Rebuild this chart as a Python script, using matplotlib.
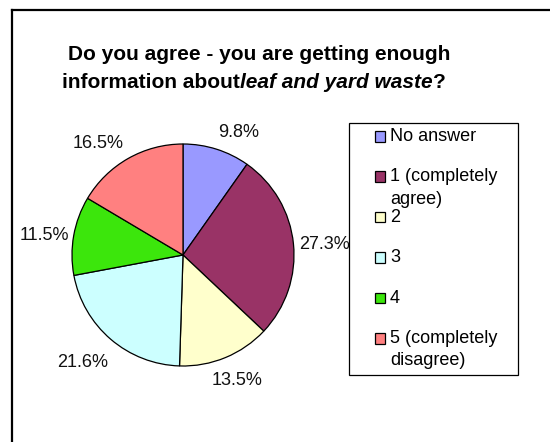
import matplotlib
matplotlib.use("Agg")
import matplotlib.pyplot as plt
from matplotlib.patches import Rectangle
from matplotlib.lines import Line2D


# Data

categories = [
    "No answer",
    "1 (completely\nagree)",
    "2",
    "3",
    "4",
    "5 (completely\ndisagree)"
]

shares = [9.8, 27.3, 13.5, 21.6, 11.5, 16.5]

pct_labels = [f"{v}%" for v in shares]

colors = ["#9999FF", "#993366", "#FFFFCC", "#CCFFFF", "#3CE60C", "#FF8080"]

# small nudges (pixels, right / down) so labels sit where Excel put them
label_nudge = [(13, 12), (1, 4), (0, -5), (-9, 0), (0, 5), (-15, 11)]


W, H = 550, 442

plt.rcParams["font.family"] = ["Liberation Sans", "DejaVu Sans"]

fig = plt.figure(figsize=(W / 100, H / 100), dpi=100)
fig.patch.set_facecolor("white")


def px(x, y):
    # pixel coords (from top-left) -> figure fraction
    return x / W, 1 - y / H


# outer chart frame (only left and top edges are visible)
fig.add_artist(Line2D([11.5 / W, 11.5 / W], [0, 1 - 10 / H],
                      transform=fig.transFigure, color="black", lw=1.6))
fig.add_artist(Line2D([11.5 / W, 1], [1 - 10 / H, 1 - 10 / H],
                      transform=fig.transFigure, color="black", lw=1.6))


# Pie

cx, cy, r = 183, 255, 111

ax = fig.add_axes([(cx - r) / W, 1 - (cy + r) / H, 2 * r / W, 2 * r / H])

wedges, texts = ax.pie(
    shares,
    labels=pct_labels,
    colors=colors,
    startangle=90,
    counterclock=False,
    labeldistance=1.27,
    wedgeprops={"edgecolor": "black", "linewidth": 0.9},
    textprops={"fontsize": 13, "color": "#111111"}
)

for t, (ndx, ndy) in zip(texts, label_nudge):
    x, y = t.get_position()
    t.set_position((x + ndx / r, y - ndy / r))
    t.set_ha("center")
    t.set_va("center")

ax.set_xlim(-1, 1)
ax.set_ylim(-1, 1)
ax.set_aspect("equal")
ax.axis("off")


# Title

fig.text(*px(259, 55), "Do you agree - you are getting enough",
         ha="center", va="center", fontsize=15, fontweight="bold")

fig.canvas.draw()
renderer = fig.canvas.get_renderer()

x_cursor = 62
pieces = [
    ("information about", "normal"),
    ("leaf and yard waste", "italic"),
    ("?", "normal"),
]

for text, style in pieces:
    t = fig.text(*px(x_cursor, 83), text, ha="left", va="center",
                 fontsize=15, fontweight="bold", fontstyle=style)
    bb = t.get_window_extent(renderer)
    x_cursor += bb.width


# Legend (drawn by hand so entries are evenly spaced like the original)

fig.add_artist(Rectangle(px(349, 375), 169 / W, 252 / H,
                         transform=fig.transFigure, facecolor="white",
                         edgecolor="black", lw=0.9))

entry_top = 136
entry_step = 40.4

for i, (label, color) in enumerate(zip(categories, colors)):
    y = entry_top + i * entry_step
    fig.add_artist(Rectangle(px(374.5, y + 5.5), 10.5 / W, 10.5 / H,
                             transform=fig.transFigure, facecolor=color,
                             edgecolor="black", lw=0.9))
    fig.text(*px(390, y - 8), label, ha="left", va="top",
             fontsize=13, linespacing=1.4)


fig.savefig("out.png", dpi=100)
